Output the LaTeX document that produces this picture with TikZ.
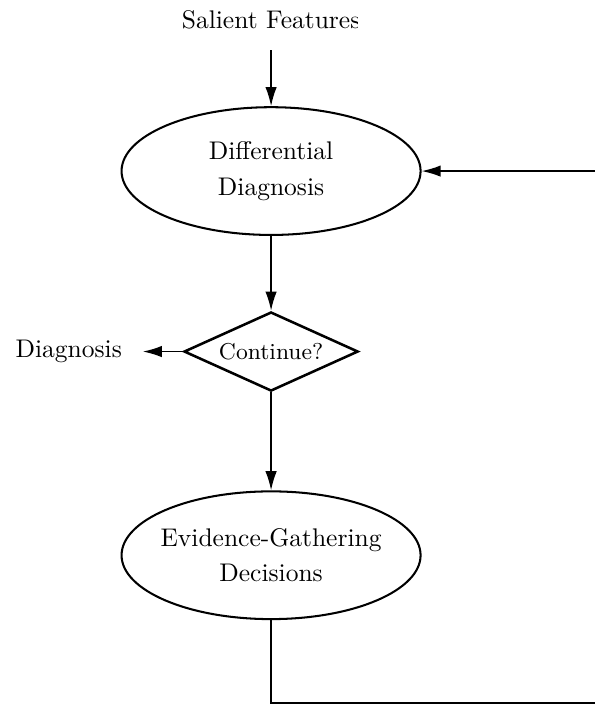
\documentclass[tikz,border=0pt]{standalone}
\usepackage{tikz}
\usetikzlibrary{arrows.meta,positioning,shapes.geometric}

\begin{document}
\begin{tikzpicture}[
  oval/.style={draw, ellipse, line width=0.8pt, minimum width=4.12cm, minimum height=1.76cm,
               inner xsep=-3pt, align=center},
  choice/.style={draw, diamond, aspect=2.2, line width=1pt, minimum width=2.4cm,
                 minimum height=1.09cm, inner sep=0pt, font=\small},
  term/.style={inner sep=8pt},
  arr/.style={-{Latex[length=7.5pt,width=4.5pt]}, line width=0.6pt}
]
  \useasboundingbox (0,0) rectangle (8.19,-9.70);
  \node[oval] (diff) at (3.735,-2.357) {Differential\\[2pt]Diagnosis};
  \begin{scope}
    \clip (0,0) rectangle (4.92,-1);
    \node[term, above=0.77cm of diff] (feat) {Salient Features};
  \end{scope}
  \node[choice, below=1.03cm of diff] (cont) {Continue?};
  \node[term, left=0.55cm of cont]    (diag) {Diagnosis};
  \node[oval, below=1.35cm of cont]   (evid) {Evidence-Gathering\\[2pt]Decisions};
  \coordinate (back) at (8.3,-9.683);

  \draw[arr] (feat) -- (diff);
  \draw[arr] (diff) -- (cont);
  \draw[arr] (cont) -- (diag);
  \draw[arr] (cont) -- (evid);
  \draw[arr] (evid.south) |- (back) |- (diff.east);
\end{tikzpicture}
\end{document}
